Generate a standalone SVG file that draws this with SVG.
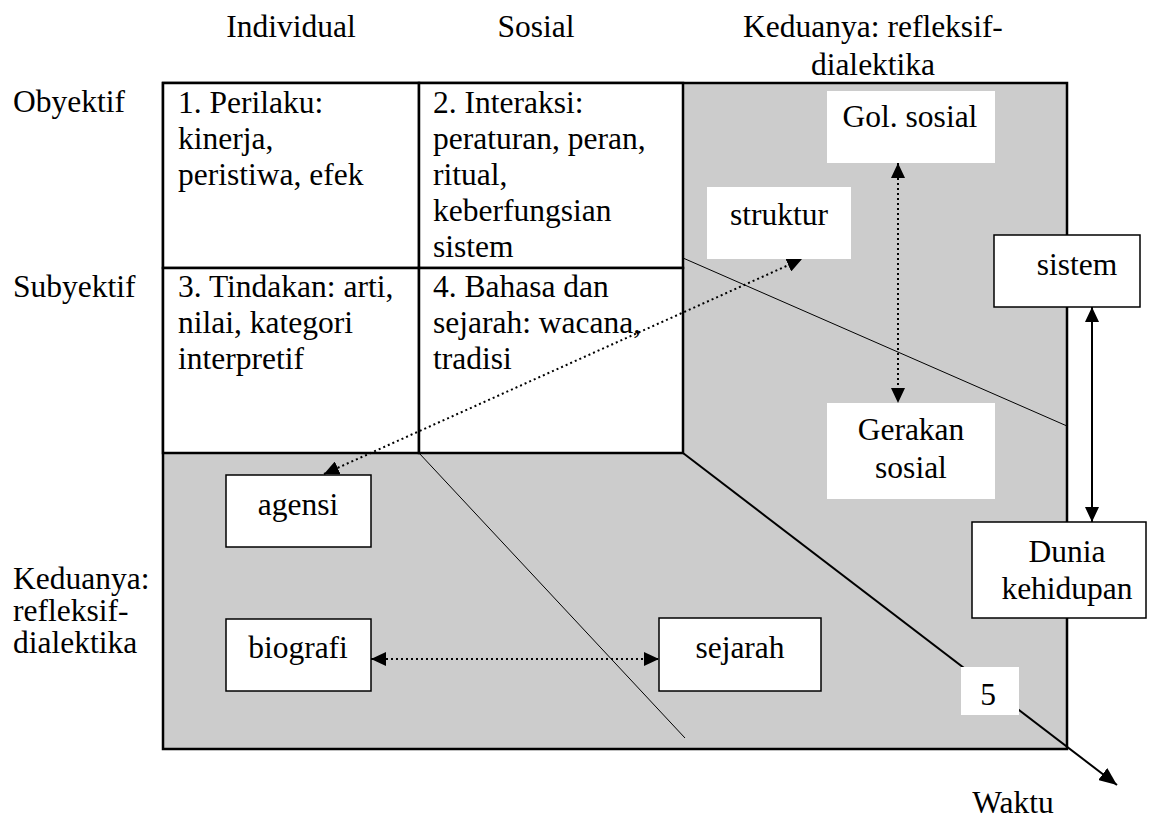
<svg xmlns="http://www.w3.org/2000/svg" width="1150" height="818" viewBox="0 0 1150 818">
<style>
text{font-family:"Liberation Serif","Times New Roman",serif;font-size:31.5px;fill:#000}
.c{text-anchor:middle}
.box{fill:#fff;stroke:#000;stroke-width:1.5}
.wbox{fill:#fff;stroke:none}
.cell{fill:#fff;stroke:#000;stroke-width:2.5}
.dot{fill:none;stroke:#000;stroke-width:2;stroke-dasharray:2 3}
.sol{fill:none;stroke:#000;stroke-width:2}
.thin{fill:none;stroke:#000;stroke-width:1}
</style>
<defs>
<marker id="ah" viewBox="0 0 15 14" refX="15" refY="7" markerWidth="15" markerHeight="14" markerUnits="userSpaceOnUse" orient="auto-start-reverse">
<path d="M0,0 L15,7 L0,14 Z" fill="#000"/>
</marker>
<marker id="ah2" viewBox="0 0 18 15" refX="18" refY="7.5" markerWidth="18" markerHeight="15" markerUnits="userSpaceOnUse" orient="auto">
<path d="M0,0 L18,7.5 L0,15 Z" fill="#000"/>
</marker>
</defs>
<rect width="1150" height="818" fill="#fff"/>

<g id="headers">
<text class="c" x="291" y="37">Individual</text>
<text class="c" x="536" y="37">Sosial</text>
<text class="c" x="873" y="37"><tspan x="873">Keduanya: refleksif-</tspan><tspan x="873" dy="38">dialektika</tspan></text>
<text x="13" y="112">Obyektif</text>
<text x="13" y="297">Subyektif</text>
<text x="13" y="589"><tspan x="13">Keduanya:</tspan><tspan x="13" dy="32">refleksif-</tspan><tspan x="13" dy="32">dialektika</tspan></text>
</g>

<g id="frame">
<rect x="163" y="83" width="904" height="666" fill="#cccccc" stroke="#000" stroke-width="2.5"/>
</g>

<g id="cell1">
<rect class="cell" x="163" y="83" width="256" height="185"/>
<text x="178" y="113"><tspan x="178">1. Perilaku:</tspan><tspan x="178" dy="36">kinerja,</tspan><tspan x="178" dy="36">peristiwa, efek</tspan></text>
</g>
<g id="cell2">
<rect class="cell" x="419" y="83" width="264" height="185"/>
<text x="433" y="113"><tspan x="433">2. Interaksi:</tspan><tspan x="433" dy="36">peraturan, peran,</tspan><tspan x="433" dy="36">ritual,</tspan><tspan x="433" dy="36">keberfungsian</tspan><tspan x="433" dy="36">sistem</tspan></text>
</g>
<g id="cell3">
<rect class="cell" x="163" y="268" width="256" height="185"/>
<text x="178" y="297"><tspan x="178">3. Tindakan: arti,</tspan><tspan x="178" dy="36">nilai, kategori</tspan><tspan x="178" dy="36">interpretif</tspan></text>
</g>
<g id="cell4">
<rect class="cell" x="419" y="268" width="264" height="185"/>
<text x="433" y="297"><tspan x="433">4. Bahasa dan</tspan><tspan x="433" dy="36">sejarah: wacana,</tspan><tspan x="433" dy="36">tradisi</tspan></text>
</g>

<g id="dividers">
<line class="thin" x1="683" y1="258" x2="1067" y2="426"/>
<line class="thin" x1="419" y1="453" x2="685" y2="738"/>
</g>

<g id="connectors">
<line class="sol" x1="683" y1="453" x2="1117" y2="785" stroke-width="2.5" marker-end="url(#ah2)"/>
<line class="dot" x1="324" y1="474" x2="802" y2="259" marker-start="url(#ah)" marker-end="url(#ah)"/>
<line class="dot" x1="898" y1="163" x2="898" y2="403" marker-start="url(#ah)" marker-end="url(#ah)"/>
<line class="dot" x1="371" y1="659" x2="659" y2="659" marker-start="url(#ah)" marker-end="url(#ah)"/>
<line class="sol" x1="1092" y1="307" x2="1092" y2="522" marker-start="url(#ah)" marker-end="url(#ah)"/>
</g>

<g id="gol-sosial">
<rect class="wbox" x="827" y="91" width="168" height="72"/>
<text class="c" x="910" y="127">Gol. sosial</text>
</g>
<g id="struktur">
<rect class="wbox" x="707" y="187" width="144" height="72"/>
<text class="c" x="779" y="225">struktur</text>
</g>
<g id="gerakan-sosial">
<rect class="wbox" x="827" y="403" width="168" height="96"/>
<text class="c" x="911" y="440"><tspan x="911">Gerakan</tspan><tspan x="911" dy="38">sosial</tspan></text>
</g>
<g id="sistem">
<rect class="box" x="994" y="235" width="146" height="72"/>
<text class="c" x="1077" y="275">sistem</text>
</g>
<g id="dunia-kehidupan">
<rect class="box" x="972" y="522" width="174" height="96"/>
<text class="c" x="1067" y="562"><tspan x="1067">Dunia</tspan><tspan x="1067" dy="37">kehidupan</tspan></text>
</g>
<g id="agensi">
<rect class="box" x="226" y="475" width="145" height="72"/>
<text class="c" x="298" y="515">agensi</text>
</g>
<g id="biografi">
<rect class="box" x="226" y="619" width="145" height="72"/>
<text class="c" x="298" y="658">biografi</text>
</g>
<g id="sejarah">
<rect class="box" x="659" y="618" width="162" height="73"/>
<text class="c" x="740" y="658">sejarah</text>
</g>
<g id="five">
<rect class="wbox" x="961" y="667" width="58" height="48"/>
<text class="c" x="988" y="705">5</text>
</g>
<g id="waktu">
<text class="c" x="1013" y="813">Waktu</text>
</g>
</svg>
